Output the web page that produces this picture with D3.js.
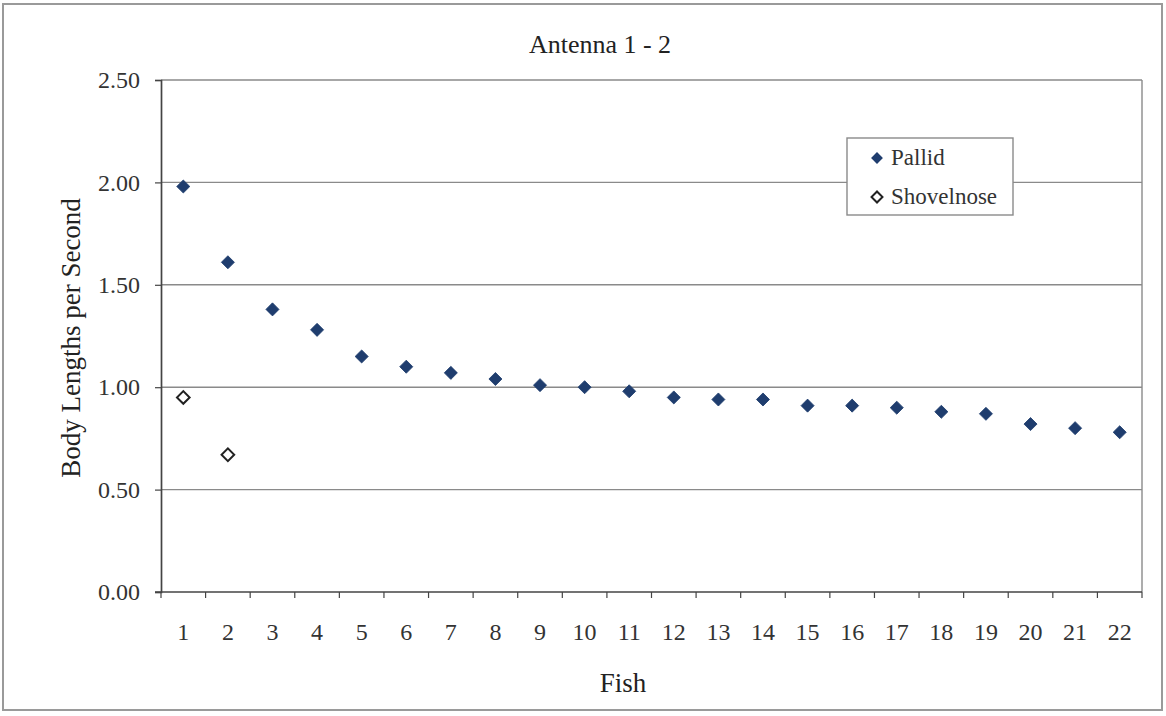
<!DOCTYPE html>
<html><head><meta charset="utf-8">
<script src="https://cdn.jsdelivr.net/npm/d3@7"></script>
<style>html,body{margin:0;padding:0;background:#fff;}svg{display:block;} text{font-family:'Liberation Serif','Times New Roman',serif;}</style>
</head><body><svg id="c" width="1166" height="716"></svg>
<script>
const fish = d3.range(1, 23).map(String);
const pallid = [1.98,1.61,1.38,1.28,1.15,1.10,1.07,1.04,1.01,1.00,0.98,0.95,0.94,0.94,0.91,0.91,0.90,0.88,0.87,0.82,0.80,0.78];
const shovelnose = [0.95,0.67];
const yTicks = [0,0.5,1.0,1.5,2.0,2.5];
const title = "Antenna 1 - 2";
const xTitle = "Fish";
const yTitle = "Body Lengths per Second";
const seriesNames = ["Pallid","Shovelnose"];

const svg = d3.select("#c");
const font = "'Liberation Serif','Times New Roman',serif";
const M = {l:161, r:1142, t:80, b:592};

svg.append("rect").attr("x",3).attr("y",4).attr("width",1159).attr("height",706)
  .attr("fill","#fff").attr("stroke","#9a9a9a").attr("stroke-width",2);

const x = d3.scaleBand().domain(fish).range([M.l, M.r]);
const y = d3.scaleLinear().domain([0,2.5]).range([M.b, M.t]);

svg.append("g").selectAll("line").data(yTicks.filter(d=>d>0)).join("line")
  .attr("x1",M.l).attr("x2",M.r).attr("y1",d=>y(d)).attr("y2",d=>y(d))
  .attr("stroke","#8a8a8a").attr("stroke-width",1.4);
svg.append("line").attr("x1",M.r).attr("x2",M.r).attr("y1",M.t).attr("y2",M.b)
  .attr("stroke","#8a8a8a").attr("stroke-width",1.4);

const ya = svg.append("g").attr("transform",`translate(${M.l},0)`)
  .call(d3.axisLeft(y).tickValues(yTicks).tickFormat(d3.format(".2f")).tickSize(6).tickPadding(15));
ya.select(".domain").attr("stroke","#444").attr("stroke-width",1.7);
ya.selectAll(".tick line").attr("stroke","#444").attr("stroke-width",1.2);
ya.selectAll("text").style("font-family",font).attr("font-size",24).attr("fill","#333");

const xa = svg.append("g").attr("transform",`translate(0,${M.b})`)
  .call(d3.axisBottom(x).tickSize(0).tickPadding(31));
xa.select(".domain").remove();
xa.selectAll("text").style("font-family",font).attr("font-size",24).attr("fill","#333");
svg.append("line").attr("x1",M.l-6).attr("x2",M.r).attr("y1",M.b).attr("y2",M.b)
  .attr("stroke","#444").attr("stroke-width",1.7);
const bounds = fish.map(f=>x(f)).concat([M.r]);
svg.append("g").selectAll("line").data(bounds).join("line")
  .attr("x1",d=>d).attr("x2",d=>d).attr("y1",M.b).attr("y2",M.b+6)
  .attr("stroke","#444").attr("stroke-width",1.2);

const cx = i => x(fish[i]) + x.bandwidth()/2;

svg.append("g").selectAll("path").data(pallid).join("path")
  .attr("d",d3.symbol().type(d3.symbolSquare).size(85))
  .attr("transform",(d,i)=>`translate(${cx(i)},${y(d)}) rotate(45)`)
  .attr("fill","#1f3d6e").attr("stroke","#1f3d6e").attr("stroke-width",0.8);
svg.append("g").selectAll("path").data(shovelnose).join("path")
  .attr("d",d3.symbol().type(d3.symbolSquare).size(80))
  .attr("transform",(d,i)=>`translate(${cx(i)},${y(d)}) rotate(45)`)
  .attr("fill","#fff").attr("stroke","#222").attr("stroke-width",2);

svg.append("text").attr("x",600).attr("y",53).attr("text-anchor","middle")
  .style("font-family",font).attr("font-size",26).attr("fill","#222").text(title);
svg.append("text").attr("x",623).attr("y",692).attr("text-anchor","middle")
  .style("font-family",font).attr("font-size",27).attr("fill","#222").text(xTitle);
svg.append("text").attr("transform","translate(80,338) rotate(-90)").attr("text-anchor","middle")
  .style("font-family",font).attr("font-size",27).attr("fill","#222").text(yTitle);

const lg = svg.append("g");
lg.append("rect").attr("x",847).attr("y",138).attr("width",166).attr("height",77)
  .attr("fill","#fff").attr("stroke","#8a8a8a").attr("stroke-width",1.4);
const lgY = [158,197];
lg.append("path").attr("d",d3.symbol().type(d3.symbolSquare).size(70))
  .attr("transform",`translate(877,${lgY[0]}) rotate(45)`).attr("fill","#1f3d6e");
lg.append("path").attr("d",d3.symbol().type(d3.symbolSquare).size(60))
  .attr("transform",`translate(877,${lgY[1]}) rotate(45)`).attr("fill","#fff").attr("stroke","#222").attr("stroke-width",2);
lg.selectAll("text").data(seriesNames).join("text")
  .attr("x",891).attr("y",(d,i)=>lgY[i]+7).style("font-family",font).attr("font-size",23).attr("fill","#333").text(d=>d);
</script></body></html>
